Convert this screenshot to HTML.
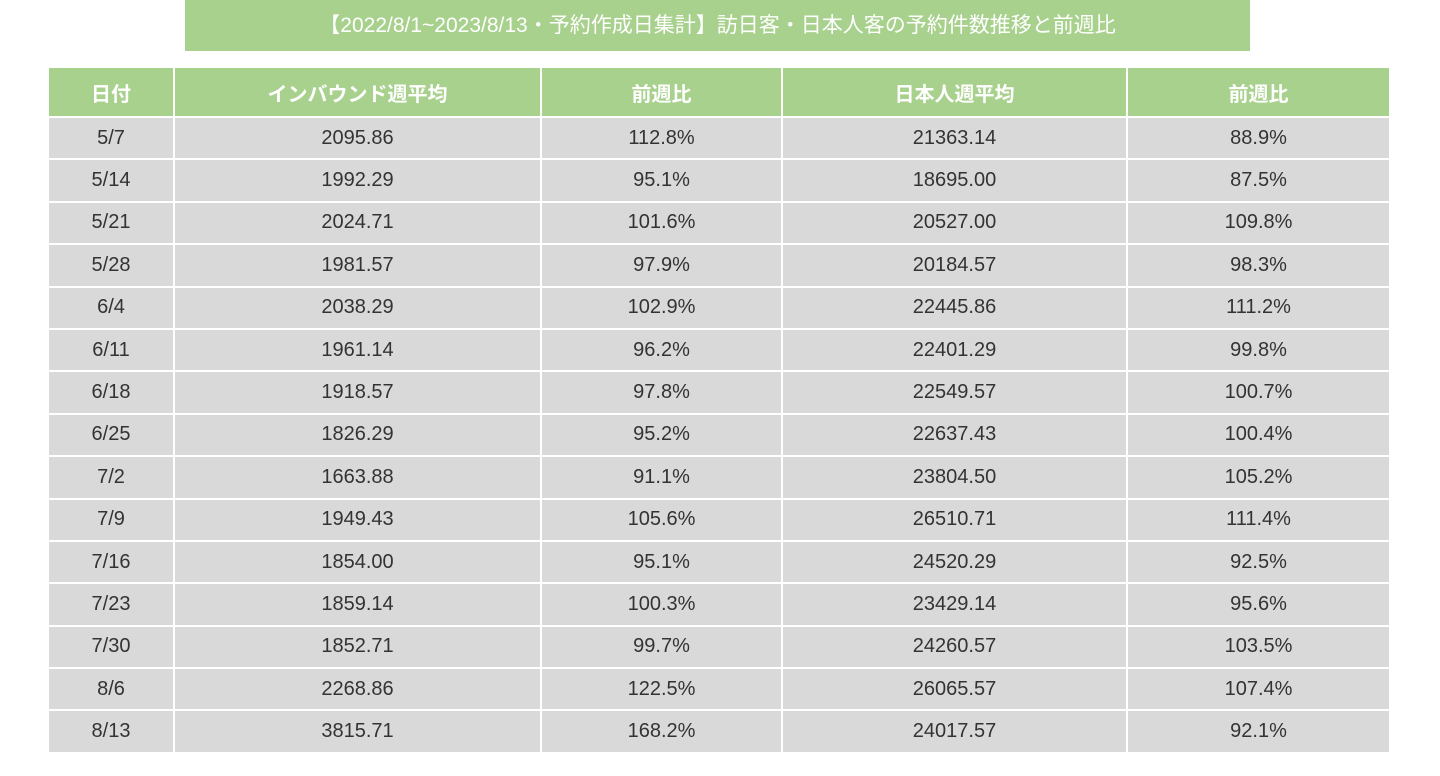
<!DOCTYPE html>
<html><head><meta charset="utf-8"><style>
body{margin:0;width:1440px;height:776px;background:#fff;position:relative;overflow:hidden;font-family:"Liberation Sans","Noto Sans CJK JP",sans-serif;}
#title{position:absolute;left:185px;top:0;width:1065px;height:51px;background:#a9d18e;color:#fff;font-size:21px;line-height:51px;text-align:center;}
table{position:absolute;left:47px;top:66px;width:1342px;border-collapse:collapse;table-layout:fixed;}
th,td{border:2px solid #fff;text-align:center;padding:0;}
th{background:#a9d18e;color:#fff;font-size:20px;font-weight:bold;height:48px;}
td{background:#d9d9d9;color:#333;font-size:20px;height:40.4px;}
</style></head><body>
<div id="title">【2022/8/1~2023/8/13・予約作成日集計】訪日客・日本人客の予約件数推移と前週比</div>
<table>
<colgroup><col style="width:126px"><col style="width:367px"><col style="width:241px"><col style="width:345px"><col style="width:263px"></colgroup>
<thead><tr><th>日付</th><th>インバウンド週平均</th><th>前週比</th><th>日本人週平均</th><th>前週比</th></tr></thead>
<tbody id="tb"></tbody></table>
<script>
const dates=["5/7","5/14","5/21","5/28","6/4","6/11","6/18","6/25","7/2","7/9","7/16","7/23","7/30","8/6","8/13"];
const inbound=["2095.86","1992.29","2024.71","1981.57","2038.29","1961.14","1918.57","1826.29","1663.88","1949.43","1854.00","1859.14","1852.71","2268.86","3815.71"];
const inboundWow=["112.8%","95.1%","101.6%","97.9%","102.9%","96.2%","97.8%","95.2%","91.1%","105.6%","95.1%","100.3%","99.7%","122.5%","168.2%"];
const japanese=["21363.14","18695.00","20527.00","20184.57","22445.86","22401.29","22549.57","22637.43","23804.50","26510.71","24520.29","23429.14","24260.57","26065.57","24017.57"];
const japaneseWow=["88.9%","87.5%","109.8%","98.3%","111.2%","99.8%","100.7%","100.4%","105.2%","111.4%","92.5%","95.6%","103.5%","107.4%","92.1%"];
const tb=document.getElementById('tb');
const names=['date-cell','inbound-cell','inbound-wow-cell','japanese-cell','japanese-wow-cell'];
dates.forEach((d,i)=>{
 const tr=document.createElement('tr');
 
 
 [d,inbound[i],inboundWow[i],japanese[i],japaneseWow[i]].forEach((v,j)=>{
  const td=document.createElement('td');
  
  
  td.textContent=v;tr.appendChild(td);
 });
 tb.appendChild(tr);
});
</script>
</body></html>
